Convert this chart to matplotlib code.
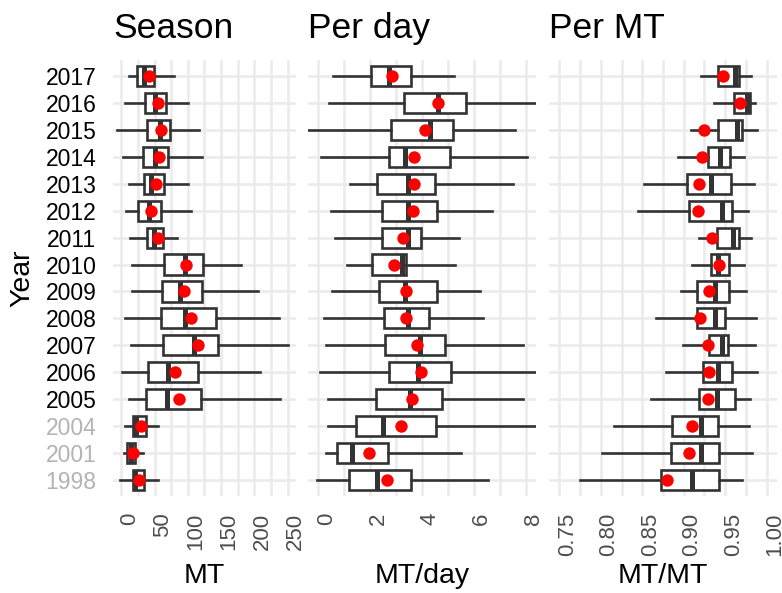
import numpy as np
import matplotlib.pyplot as plt
from matplotlib.transforms import ScaledTranslation

plt.rcParams['font.family'] = ['Liberation Sans', 'DejaVu Sans']

# years from bottom to top
years = ["1998", "2001", "2004", "2005", "2006", "2007", "2008", "2009",
         "2010", "2011", "2012", "2013", "2014", "2015", "2016", "2017"]
grey_years = ["1998", "2001", "2004"]

# Season (MT): whisker low, q1, median, q3, whisker high, mean
season_lo = [-1.5, 3.5, 6, 11.5, 1.5, 14.5, 6, 16, 16, 12.5, 7.5, 11.5, 2.5, -6.5, 5, 11]
season_q1 = [17.5, 9, 17.5, 36.5, 40, 62, 59.5, 60.5, 64.5, 38.5, 24.5, 34, 32.5, 38.5, 36, 23]
season_med = [21, 15, 21.5, 68.5, 70, 108.5, 95, 87.5, 95, 49, 42, 45, 51, 58.5, 51, 34.5]
season_q3 = [34.5, 21, 37, 120, 114.5, 145.5, 142.5, 121.5, 122.5, 62.5, 59.5, 64, 69.5, 72.5, 67, 48.5]
season_hi = [54.5, 32.5, 54.5, 238.5, 208, 251, 237, 205, 179.5, 83.5, 104.5, 99.5, 121, 116.5, 99.5, 78.5]
season_mean = [26.5, 17, 29.5, 86, 80.5, 115, 104, 93.5, 97, 54.5, 45, 51.5, 57, 59, 54.5, 42]

# Per day (MT/day)
day_lo = [-0.05, 0.29, 0.38, 0.36, 0.08, 0.28, 0.23, 0.53, 1.12, 0.63, 0.5, 1.22, 0.09, -0.45, 0.41, 0.58]
day_q1 = [1.19, 0.73, 1.46, 2.22, 2.71, 2.56, 2.53, 2.35, 2.06, 2.45, 2.47, 2.28, 2.73, 2.82, 3.31, 2.03]
day_med = [2.28, 1.28, 2.5, 3.55, 3.85, 3.91, 3.47, 3.33, 3.22, 3.46, 3.46, 3.46, 3.33, 4.29, 4.62, 2.73]
day_q3 = [3.59, 2.69, 4.55, 4.77, 5.10, 4.87, 4.26, 4.58, 3.38, 3.95, 4.58, 4.49, 5.08, 5.21, 5.68, 3.56]
day_hi = [6.54, 5.51, 8.9, 7.91, 8.7, 7.91, 6.35, 6.22, 5.28, 5.41, 6.72, 7.51, 8.06, 7.60, 8.8, 5.22]
day_mean = [2.63, 1.96, 3.19, 3.62, 3.97, 3.81, 3.38, 3.38, 2.90, 3.28, 3.64, 3.68, 3.69, 4.10, 4.60, 2.86]

# Per MT (MT/MT)
mt_lo = [0.7745, 0.8013, 0.8154, 0.8603, 0.8787, 0.8988, 0.8663, 0.8964, 0.9096, 0.9184, 0.8446, 0.8515, 0.8936, 0.9084, 0.9369, 0.9204]
mt_q1 = [0.8731, 0.8851, 0.8859, 0.9184, 0.9236, 0.9309, 0.9156, 0.9164, 0.9325, 0.9405, 0.9064, 0.9044, 0.9288, 0.9417, 0.9609, 0.9409]
mt_med = [0.9104, 0.9208, 0.9208, 0.9397, 0.9409, 0.9457, 0.9377, 0.9377, 0.9417, 0.9597, 0.9457, 0.9325, 0.9437, 0.9645, 0.9758, 0.9617]
mt_q3 = [0.9421, 0.9429, 0.9417, 0.9617, 0.9585, 0.9537, 0.9497, 0.9545, 0.9549, 0.9661, 0.9577, 0.9565, 0.9557, 0.9697, 0.9798, 0.9669]
mt_hi = [0.9702, 0.9822, 0.9790, 0.9798, 0.9886, 0.9858, 0.9866, 0.9746, 0.9726, 0.9814, 0.9778, 0.9850, 0.9726, 0.9886, 0.9858, 0.9806]
mt_mean = [0.8795, 0.9064, 0.9104, 0.9297, 0.9305, 0.9297, 0.9196, 0.9305, 0.9429, 0.9341, 0.9172, 0.9184, 0.9220, 0.9240, 0.9677, 0.9469]

panels = [
    ("Season", "MT", (season_lo, season_q1, season_med, season_q3, season_hi, season_mean),
     (0, 250), np.arange(0, 251, 50), np.arange(25, 250, 50), "{:g}"),
    ("Per day", "MT/day", (day_lo, day_q1, day_med, day_q3, day_hi, day_mean),
     (0, 8), np.arange(0, 9, 2), np.arange(1, 8, 2), "{:g}"),
    ("Per MT", "MT/MT", (mt_lo, mt_q1, mt_med, mt_q3, mt_hi, mt_mean),
     (0.75, 1.0), np.arange(0.75, 1.001, 0.05), np.arange(0.775, 1.0, 0.05), "{:.2f}"),
]

# panel pixel boxes (left, right)
W, H = 782, 593
px = [(113, 296), (308, 536), (549, 777)]
top_px, bot_px = 60, 496

fig = plt.figure(figsize=(W / 100, H / 100), dpi=100)
grid_col = "#EBEBEB"
pos = np.arange(1, len(years) + 1)

for i, (title, xlab, vals, lim, major, minor, fmt) in enumerate(panels):
    l, r = px[i]
    ax = fig.add_axes([l / W, (H - bot_px) / H, (r - l) / W, (bot_px - top_px) / H])
    lo, q1, med, q3, hi, mean = vals
    stats = [dict(whislo=lo[k], q1=q1[k], med=med[k], q3=q3[k], whishi=hi[k], label=years[k])
             for k in range(len(years))]
    ax.bxp(stats, positions=pos, widths=0.75, orientation='horizontal',
           showfliers=False, showcaps=False, patch_artist=True,
           boxprops=dict(facecolor="white", edgecolor="#333333", linewidth=1.9),
           medianprops=dict(color="#333333", linewidth=3.6, solid_capstyle='butt'),
           whiskerprops=dict(color="#333333", linewidth=1.9))
    ax.scatter(mean, pos, s=80, color="red", zorder=5, linewidths=0)

    span = lim[1] - lim[0]
    ax.set_xlim(lim[0] - 0.05 * span, lim[1] + 0.05 * span)
    ax.set_ylim(0.4, len(years) + 0.6)
    ax.set_xticks(major)
    ax.set_xticklabels([fmt.format(v) for v in major], rotation=90, fontsize=16, color="#4D4D4D")
    ax.set_xticks(minor, minor=True)
    ax.set_yticks(pos)
    ax.grid(True, which='major', color=grid_col, linewidth=1.8)
    ax.grid(True, which='minor', axis='x', color=grid_col, linewidth=1.8)
    ax.set_axisbelow(True)
    for s in ax.spines.values():
        s.set_visible(False)
    ax.tick_params(axis='both', which='both', length=0)
    ax.tick_params(axis='x', pad=12)
    for lab in ax.get_xticklabels():
        lab.set_transform(lab.get_transform() + ScaledTranslation(0.08, 0, fig.dpi_scale_trans))
    if i == 0:
        ax.set_yticklabels(years, fontsize=16.5)
        ax.tick_params(axis='y', pad=12)
        for lab, yr in zip(ax.get_yticklabels(), years):
            lab.set_color("#B3B3B3" if yr in grey_years else "black")
    else:
        ax.set_yticklabels([])
    fig.text(l / W, (H - 38) / H, title, fontsize=25.5, ha='left', va='baseline')
    fig.text((l + r) / 2 / W, (H - 583) / H, xlab, fontsize=20.5, ha='center', va='baseline')

fig.text(22 / W, (H - 278) / H, "Year", fontsize=20.5, rotation=90, ha='center', va='center')

plt.savefig("out.png", dpi=100)
